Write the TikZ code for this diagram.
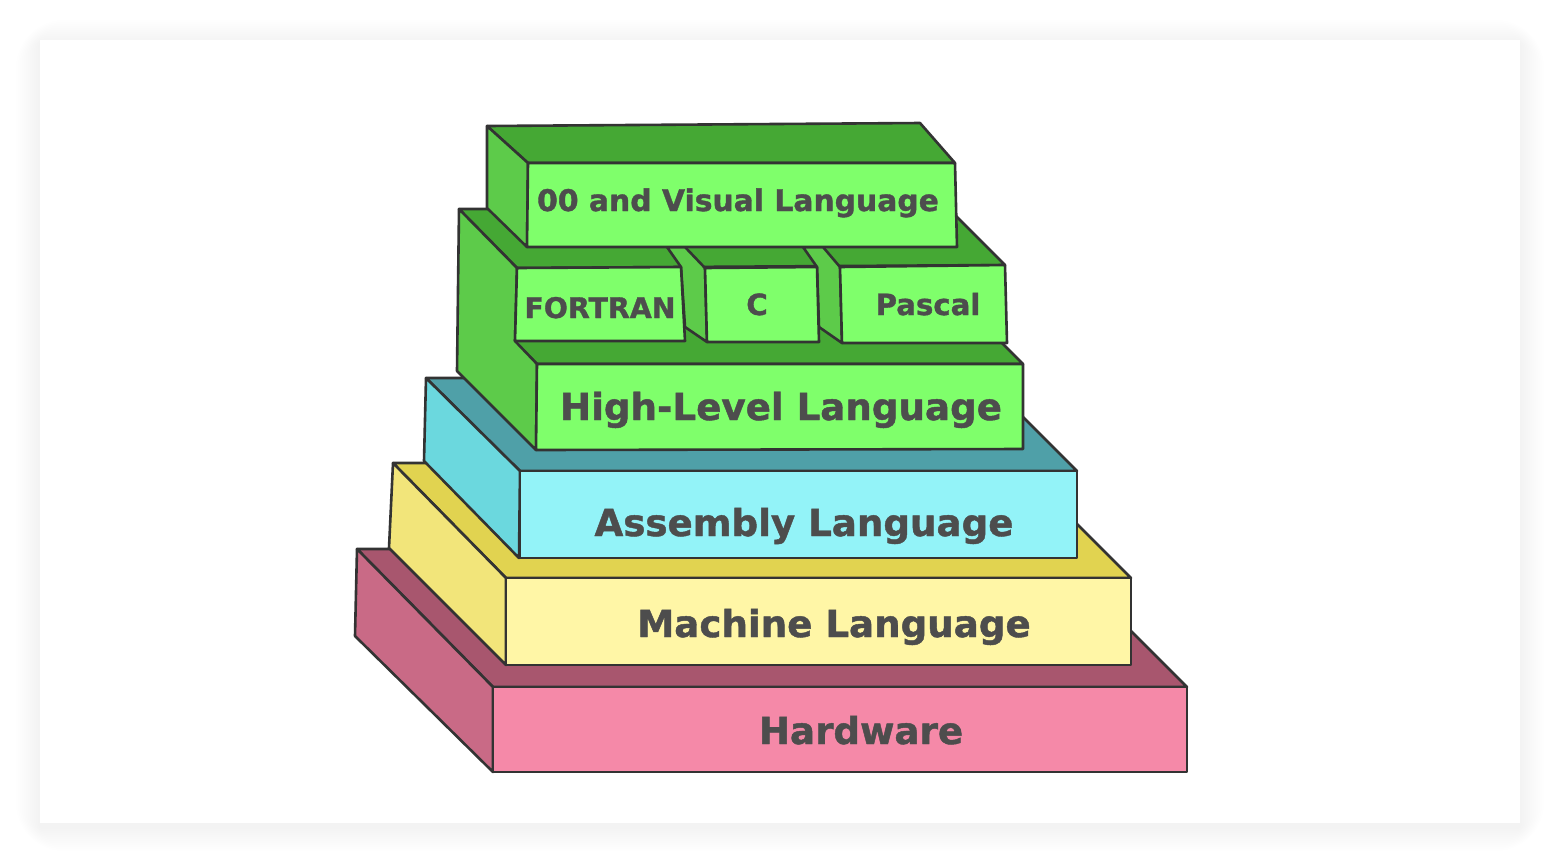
\documentclass[tikz,border=0pt]{standalone}
\usepackage{fontspec}
\setmainfont{DejaVu Sans}[BoldFeatures={FakeBold=1.2}]
\usepackage{tikz}
\usetikzlibrary{positioning}

\definecolor{hwfront}{HTML}{F589A8}
\definecolor{hwtop}{HTML}{A8566E}
\definecolor{hwside}{HTML}{C96A86}
\definecolor{mlfront}{HTML}{FFF6A6}
\definecolor{mltop}{HTML}{E1D350}
\definecolor{mlside}{HTML}{F2E57A}
\definecolor{alfront}{HTML}{93F3F8}
\definecolor{altop}{HTML}{4FA0A8}
\definecolor{alside}{HTML}{6BD8DE}
\definecolor{hlfront}{HTML}{7FFF6B}
\definecolor{hltop}{HTML}{45A834}
\definecolor{hlside}{HTML}{5DCB4A}
\definecolor{edge}{HTML}{333333}
\definecolor{labeltext}{HTML}{4D4D4D}

\begin{document}
\begin{tikzpicture}[x=0.5pt, y=-0.5pt,
    face/.style={draw=edge, line width=1.3pt, line join=round},
    biglabel/.style={text=labeltext, anchor=base, font=\bfseries\fontsize{18.6}{20}\selectfont},
    smalllabel/.style={text=labeltext, anchor=base, font=\bfseries\fontsize{14.6}{16}\selectfont}]
    \useasboundingbox (0,0) rectangle (1560,864);
    % card and its shadow
    \fill[white] (0,0) rectangle (1560,864);
    \foreach \s in {2,4,...,24}
        \fill[black, opacity=0.005, rounded corners=\s pt] (40-\s,44-\s) rectangle (1520+\s,827+\s);
    \fill[white] (40,40) rectangle (1520,823);

    % hardware
    \draw[face, fill=hwtop] (357,549) -- (1049,549) -- (1187,687) -- (493,687) -- cycle;
    \draw[face, fill=hwside] (357,549) -- (493,687) -- (493,772) -- (355,636) -- cycle;
    \draw[face, fill=hwfront] (493,687) rectangle (1187,772);
    % machine language
    \draw[face, fill=mltop] (393,463) -- (1016,463) -- (1131,578) -- (506,578) -- cycle;
    \draw[face, fill=mlside] (393,463) -- (506,578) -- (506,665) -- (389,548) -- cycle;
    \draw[face, fill=mlfront] (506,578) rectangle (1131,665);
    % assembly language
    \draw[face, fill=altop] (426,378) -- (984,378) -- (1077,471) -- (520,471) -- cycle;
    \draw[face, fill=alside] (426,378) -- (520,471) -- (519,558) -- (424,461) -- cycle;
    \draw[face, fill=alfront] (520,471) rectangle (1077,558);
    % high-level block with its three languages
    \draw[face, fill=hltop] (458,285) -- (944,285) -- (1023,364) -- (537,364) -- cycle;
    \draw[face, fill=hltop] (459,209) -- (949,209) -- (1005,265) -- (517,268) -- cycle;
    \draw[face, fill=hlside] (459,209) -- (517,268) -- (515,341) -- (537,364) -- (536,450) -- (457,371) -- cycle;
    \draw[face, fill=hlside] (667,247) -- (685,247) -- (705,268) -- (707,342) -- (685,327) -- (681,267) -- cycle;
    \draw[face, fill=hlside] (803,247) -- (823,247) -- (840,267) -- (842,343) -- (819,327) -- (817,267) -- cycle;
    \draw[face, fill=hlfront] (517,268) -- (681,267) -- (685,341) -- (515,341) -- cycle;
    \draw[face, fill=hlfront] (705,268) -- (817,267) -- (819,342) -- (707,342) -- cycle;
    \draw[face, fill=hlfront] (840,267) -- (1005,265) -- (1007,343) -- (842,343) -- cycle;
    \draw[face, fill=hlfront] (537,364) -- (1023,364) -- (1023,449) -- (536,450) -- cycle;
    % oo box on top
    \draw[face, fill=hltop] (487,126) -- (920,123) -- (955,163) -- (528,163) -- cycle;
    \draw[face, fill=hlside] (487,126) -- (528,163) -- (527,247) -- (487,208) -- cycle;
    \draw[face, fill=hlfront] (528,163) -- (955,163) -- (957,247) -- (527,247) -- cycle;

    % labels
    \node[biglabel] (hw) at (861,744) {Hardware};
    \node[biglabel] (ml) at (834,637) {Machine Language};
    \node[biglabel] (al) at (804,536) {Assembly Language};
    \node[biglabel] (hl) at (781,420) {High-Level Language};
    \node[smalllabel, font=\bfseries\fontsize{14.9}{16}\selectfont] (oo) at (738,211) {00 and Visual Language};
    \node[smalllabel, font=\bfseries\fontsize{14.2}{16}\selectfont] (fortran) at (600,318) {FORTRAN};
    \node[smalllabel] (clang) at (757,315) {C};
    \node[smalllabel] (pascal) at (928,315) {Pascal};
\end{tikzpicture}
\end{document}
